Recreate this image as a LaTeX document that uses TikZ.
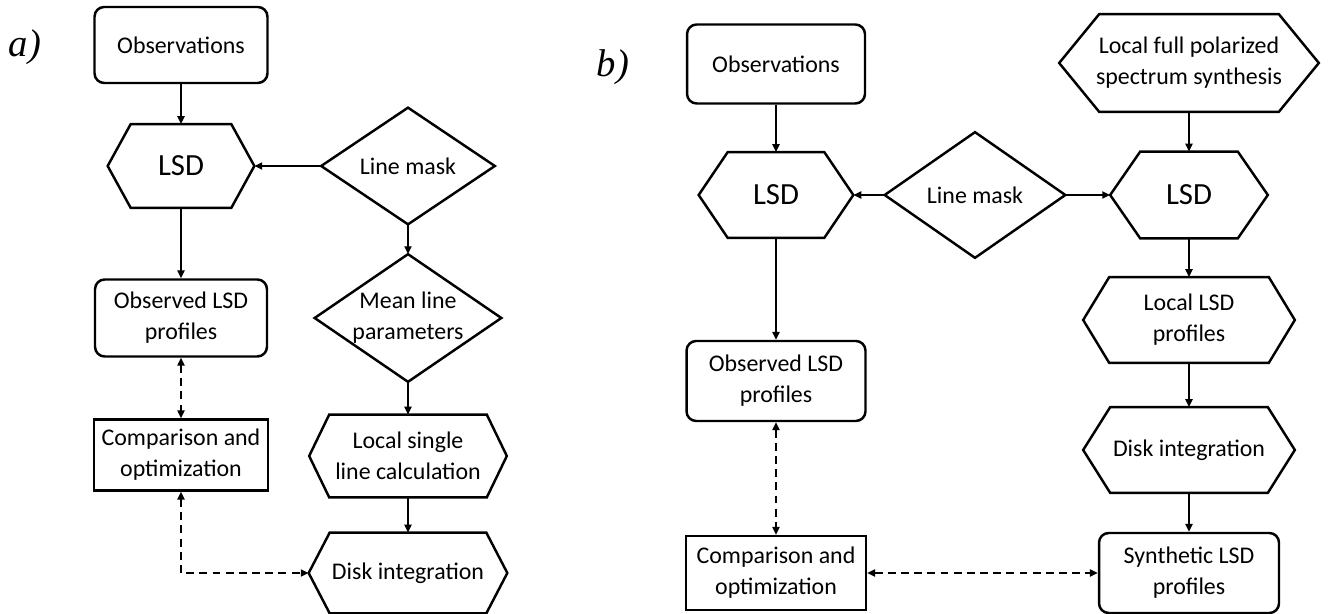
\documentclass[tikz,border=0pt]{standalone}
\usepackage{fontspec}
\setmainfont{Carlito}
\newfontfamily\tagfont{Liberation Serif}
\usetikzlibrary{arrows.meta,calc}

\tikzset{
  boxtext/.style={font=\fontsize{13.6}{17.5}\selectfont,align=center},
  bigtext/.style={font=\fontsize{17.5}{20}\selectfont},
  roundbox/.style 2 args={draw,line width=1.4pt,rounded corners=5.5pt,boxtext,minimum width=#1,minimum height=#2},
  plainbox/.style 2 args={draw,line width=1.4pt,boxtext,minimum width=#1,minimum height=#2},
  shapebox/.style 2 args={inner sep=0pt,boxtext,minimum width=#1,minimum height=#2},
  outline/.style={line width=1.4pt,line join=miter},
  flow/.style={line width=1.3pt,-{Triangle[length=4.5pt,width=4pt]}},
  dashflow/.style={line width=1.3pt,dash pattern=on 4.5pt off 3pt,
    {Triangle[length=4.5pt,width=4pt]}-{Triangle[length=4.5pt,width=4pt]}},
  tag/.style={font=\tagfont\itshape\fontsize{22}{24}\selectfont}
}

\begin{document}
\begin{tikzpicture}[x=0.02cm,y=-0.02cm]
  \useasboundingbox (0,0) rectangle (1332,614);

  % a) single line model
  \node[tag] (taga) at (25,47) {a)};
  \node[roundbox={3.46cm}{1.52cm}] (obsa) at (181,45) {Observations};
  \node[shapebox={2.92cm}{1.66cm},bigtext] (lsda) at (181,166) {LSD};
  \node[shapebox={3.46cm}{2.32cm}] (maska) at (408,166) {Line mask};
  \node[shapebox={3.72cm}{2.54cm}] (meana) at (408,318) {Mean line\\parameters};
  \node[roundbox={3.44cm}{1.54cm}] (profa) at (181,318) {Observed LSD\\profiles};
  \node[plainbox={3.48cm}{1.42cm}] (compa) at (181,455) {Comparison and\\optimization};
  \node[shapebox={3.94cm}{1.64cm}] (singlea) at (408,456) {Local single\\line calculation};
  \node[shapebox={3.96cm}{1.6cm}] (diska) at (408,573) {Disk integration};

  % b) full polarized synthesis
  \node[tag] (tagb) at (613,67) {b)};
  \node[roundbox={3.56cm}{1.58cm}] (obsb) at (776,64) {Observations};
  \node[shapebox={3.08cm}{1.7cm},bigtext] (lsdb) at (776,195) {LSD};
  \node[shapebox={3.6cm}{2.5cm}] (maskb) at (975,195) {Line mask};
  \node[shapebox={5.18cm}{1.94cm}] (synth) at (1189,63) {Local full polarized\\spectrum synthesis};
  \node[shapebox={3.14cm}{1.72cm},bigtext] (lsdc) at (1189,195) {LSD};
  \node[shapebox={4.22cm}{1.7cm}] (locb) at (1189,320) {Local LSD\\profiles};
  \node[shapebox={4.22cm}{1.7cm}] (diskb) at (1189,450) {Disk integration};
  \node[roundbox={3.6cm}{1.6cm}] (synb) at (1189,573) {Synthetic LSD\\profiles};
  \node[roundbox={3.58cm}{1.6cm}] (profb) at (776,381) {Observed LSD\\profiles};
  \node[plainbox={3.6cm}{1.48cm}] (compb) at (776,573) {Comparison and\\optimization};

  % hexagons and diamonds
  \foreach \n/\d in {lsda/23,singlea/20,diska/21,lsdb/29,synth/40,lsdc/30,locb/26,diskb/27}
    \draw[outline] (\n.west) -- ($(\n.north west)+(\d,0)$) -- ($(\n.north east)+(-\d,0)$)
      -- (\n.east) -- ($(\n.south east)+(-\d,0)$) -- ($(\n.south west)+(\d,0)$) -- cycle;
  \foreach \n in {maska,meana,maskb}
    \draw[outline] (\n.west) -- (\n.north) -- (\n.east) -- (\n.south) -- cycle;

  % connectors a)
  \draw[flow] (obsa.south) -- (lsda.north);
  \draw[flow] (maska.west) -- (lsda.east);
  \draw[flow] (lsda.south) -- (profa.north);
  \draw[flow] (maska.south) -- (meana.north);
  \draw[flow] (meana.south) -- (singlea.north);
  \draw[flow] (singlea.south) -- (diska.north);
  \draw[dashflow] (profa.south) -- (compa.north);
  \draw[dashflow] (compa.south) |- (diska.west);

  % connectors b)
  \draw[flow] (obsb.south) -- (lsdb.north);
  \draw[flow] (maskb.west) -- (lsdb.east);
  \draw[flow] (maskb.east) -- (lsdc.west);
  \draw[flow] (lsdb.south) -- (profb.north);
  \draw[flow] (synth.south) -- (lsdc.north);
  \draw[flow] (lsdc.south) -- (locb.north);
  \draw[flow] (locb.south) -- (diskb.north);
  \draw[flow] (diskb.south) -- (synb.north);
  \draw[dashflow] (profb.south) -- (compb.north);
  \draw[dashflow] (compb.east) -- (synb.west);
\end{tikzpicture}
\end{document}
